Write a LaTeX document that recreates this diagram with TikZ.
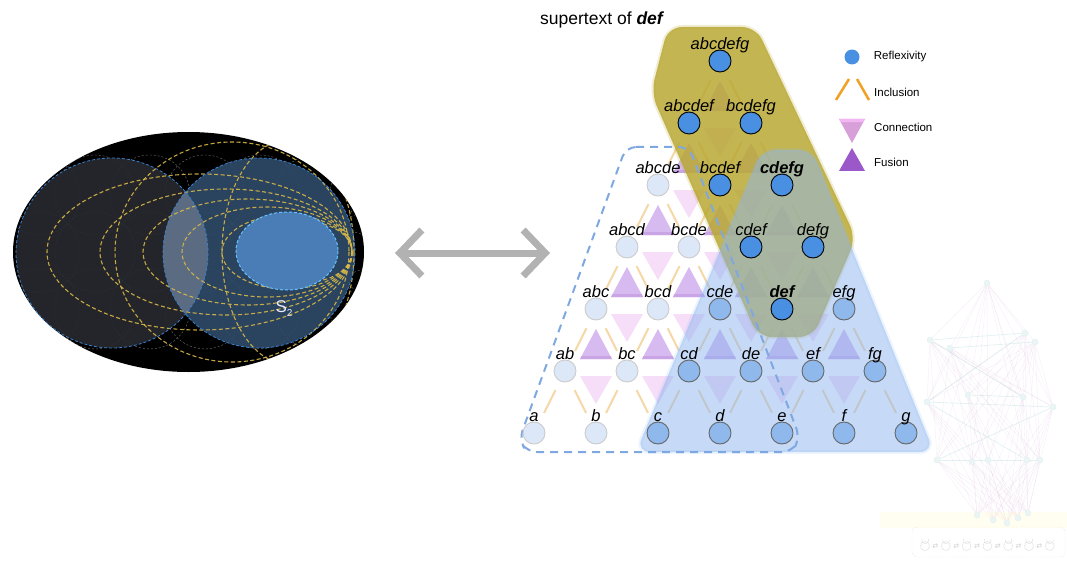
\documentclass[tikz,border=0pt]{standalone}
\usepackage{fontspec}
\setmainfont{Liberation Sans}
\newfontfamily\symbfont{DejaVu Sans}
\usetikzlibrary{arrows,arrows.meta,positioning}

\definecolor{palefill}{HTML}{DCE7F7}
\definecolor{midfill}{HTML}{8FB8EC}
\definecolor{brightfill}{HTML}{4A90E2}
\definecolor{inclcol}{HTML}{F5D8A6}
\definecolor{fusecol}{HTML}{D7BAEF}
\definecolor{fusebase}{HTML}{C9A5E6}
\definecolor{conncol}{HTML}{F6DDF8}
\definecolor{supercol}{HTML}{B9A833}
\definecolor{subcol}{HTML}{8DB6F0}
\definecolor{dashcol}{HTML}{7FA8E0}
\definecolor{leftdisk}{HTML}{26292E}
\definecolor{rightdisk}{HTML}{2E4968}
\definecolor{lenscol}{HTML}{5A6B82}
\definecolor{innercol}{HTML}{4A7DB5}
\definecolor{diskline}{HTML}{3A80CC}
\definecolor{goldline}{HTML}{D8B848}
\definecolor{legincl}{HTML}{F0A022}
\definecolor{legconn}{HTML}{D8A0D8}
\definecolor{legconntop}{HTML}{F2B6F2}
\definecolor{legfuse}{HTML}{9B58C9}

\pgfdeclarelayer{lines}
\pgfdeclarelayer{zones}
\pgfsetlayers{lines,zones,main}

\tikzset{
    %Define style for lattice nodes
    paleknot/.style={
           circle,
           draw=black!20, line width=0.9pt,
           fill=palefill,
           minimum size=22pt,
           inner sep=0pt},
    midknot/.style={paleknot, draw=black!60, fill=midfill},
    brightknot/.style={paleknot, draw=black, fill=brightfill},
    %Define style for labels
    lbl/.style={
           font=\fontsize{16.5}{17}\selectfont\itshape,
           inner sep=0pt,
           text depth=0pt},
    legtext/.style={font=\fontsize{11.5}{12}\selectfont, inner sep=0pt, anchor=west},
    % Define line styles
    incl/.style={draw=inclcol, line width=2pt, shorten <=11pt, shorten >=10pt},
    fuse/.style={fill=fusecol},
    conn/.style={fill=conncol},
    superzone/.style={fill=supercol, fill opacity=0.85, draw=supercol, draw opacity=0.2, line width=4pt, rounded corners=14pt},
    subzone/.style={fill=subcol, fill opacity=0.5, draw=subcol, draw opacity=0.15, line width=4pt, rounded corners=14pt},
    goldcurve/.style={draw=goldline, line width=1.1pt, dash pattern=on 4pt off 2.5pt, draw opacity=0.9},
    twoway/.style={{Straight Barb[length=22pt,width=46pt]}-{Straight Barb[length=22pt,width=46pt]}, line width=7pt, draw=black!30},
    ghostknot/.style={circle, fill=teal!8, draw=teal!12, minimum size=6pt, inner sep=0pt},
    ghostedge/.style={draw=violet!45, draw opacity=0.15, line width=0.4pt}
}

\begin{document}
\begin{tikzpicture}[x=1pt,y=-1pt]
\useasboundingbox (0,0) rectangle (1067,564);

 %left picture
\fill[black] (188.5,252) ellipse [x radius=175.5, y radius=120];
\begin{scope}
\clip (188.5,252) ellipse [x radius=175.5, y radius=120];
\foreach \cx in {40,95,...,370}
  \foreach \cy in {195,252,309}
    \draw[black!55, line width=0.4pt, dash pattern=on 2pt off 2pt] (\cx,\cy) circle [radius=40];
\fill[rightdisk, fill opacity=0.92] (259,253) ellipse [x radius=96, y radius=95];
\fill[leftdisk, fill opacity=0.92] (112,253) ellipse [x radius=96, y radius=95];
\begin{scope}
\clip (112,253) ellipse [x radius=96, y radius=95];
\fill[lenscol] (259,253) ellipse [x radius=96, y radius=95];
\end{scope}
\foreach \lx/\ry in {47/78, 100/63, 143/53, 182/45, 222/37, 262/30}
  \draw[goldcurve] ({(\lx+352)/2},252) ellipse [x radius={(352-\lx)/2}, y radius=\ry];
\draw[goldcurve] (232,252) ellipse [x radius=117, y radius=110];
\draw[goldcurve] (288,252) ellipse [x radius=66, y radius=112];
\end{scope}
\draw[diskline, line width=0.8pt, dash pattern=on 3pt off 2pt] (112,253) ellipse [x radius=96, y radius=95];
\draw[diskline, line width=0.8pt, dash pattern=on 3pt off 2pt] (259,253) ellipse [x radius=96, y radius=95];
\fill[innercol] (287,251) ellipse [x radius=51, y radius=39];
\draw[blue!40!cyan!60, line width=1pt, dash pattern=on 3pt off 2pt] (287,251) ellipse [x radius=51, y radius=39];
\node[text=blue!8, font=\fontsize{17}{17}\selectfont, inner sep=0pt] (stwo) at (284,309)
  {S\raisebox{-4pt}{\fontsize{10}{10}\selectfont 2}};

 %double arrow
\coordinate (arrL) at (395,253);
\coordinate (arrR) at (550,253);
\draw[twoway] (arrL) -- (arrR);

 %caption
\node[font=\fontsize{17.5}{18}\selectfont, inner sep=0pt, anchor=west] (cap) at (540,20)
  {supertext of \textbf{\textit{def}}};

 %lattice nodes
\foreach \nm/\r/\i/\st/\txt in {
  a/0/0/paleknot/a, b/0/1/paleknot/b, c/0/2/midknot/c, d/0/3/midknot/d,
  e/0/4/midknot/e, f/0/5/midknot/f, g/0/6/midknot/g,
  ab/1/0/paleknot/ab, bc/1/1/paleknot/bc, cd/1/2/midknot/cd, de/1/3/midknot/de,
  ef/1/4/midknot/ef, fg/1/5/midknot/fg,
  abc/2/0/paleknot/abc, bcd/2/1/paleknot/bcd, cde/2/2/midknot/cde,
  def/2/3/brightknot/\textbf{def}, efg/2/4/midknot/efg,
  abcd/3/0/paleknot/abcd, bcde/3/1/paleknot/bcde, cdef/3/2/brightknot/cdef, defg/3/3/brightknot/defg,
  abcde/4/0/paleknot/abcde, bcdef/4/1/brightknot/bcdef, cdefg/4/2/brightknot/\textbf{cdefg},
  abcdef/5/0/brightknot/abcdef, bcdefg/5/1/brightknot/bcdefg,
  abcdefg/6/0/brightknot/abcdefg}
  \node[\st, alias=n\r-\i, label={[lbl]above:\txt}] (\nm) at ({534+62*\i+31*\r},{433-62*\r}) {};

\begin{pgfonlayer}{lines}
 %inclusion
\foreach \r in {0,...,5}{
  \pgfmathtruncatemacro\up{\r+1}
  \pgfmathtruncatemacro\m{5-\r}
  \foreach \j in {0,...,\m}{
    \pgfmathtruncatemacro\jj{\j+1}
    \draw[incl] (n\r-\j) -- (n\up-\j);
    \draw[incl] (n\r-\jj) -- (n\up-\j);
  }
}
 %fusion
\foreach \r in {1,...,5}{
  \pgfmathtruncatemacro\m{5-\r}
  \foreach \i in {0,...,\m}{
    \pgfmathsetmacro\x{534+62*\i+31*(\r+1)}
    \pgfmathsetmacro\y{433-62*(\r+1)}
    \fill[fuse] ({\x-16},{\y+50}) -- (\x,{\y+20}) -- ({\x+16},{\y+50}) -- cycle;
    \fill[fusebase] ({\x-16},{\y+50}) -- ({\x+16},{\y+50}) -- ({\x+14.5},{\y+47}) -- ({\x-14.5},{\y+47}) -- cycle;
  }
}
 %connection
\foreach \r in {0,...,4}{
  \pgfmathtruncatemacro\m{5-\r}
  \foreach \i in {1,...,\m}{
    \pgfmathsetmacro\x{534+62*\i+31*\r}
    \pgfmathsetmacro\y{433-62*(\r+1)}
    \fill[conn] ({\x-16},{\y+5}) -- ({\x+16},{\y+5}) -- (\x,{\y+33}) -- cycle;
  }
}
\end{pgfonlayer}

\begin{pgfonlayer}{zones}
\filldraw[superzone] (668,27) -- (756,27) -- (856,238) -- (813,337) -- (758,337) -- (651,93) -- cycle;
\filldraw[subzone] (762,150) -- (812,150) -- (934,452) -- (636,452) -- cycle;
\draw[dashcol, line width=2pt, dash pattern=on 8pt off 6pt, rounded corners=10pt]
  (626,147) -- (689,147) -- (800,438) -- (792,452) -- (527,452) -- (519,440) -- cycle;
\end{pgfonlayer}

 %legend
\node[circle, fill=brightfill, minimum size=15pt, inner sep=0pt] (reflex) at (852,57) {};
\node[legtext, right=14pt of reflex] (reflexlbl) {Reflexivity};
\coordinate (inclA) at (836,100);
\coordinate (inclB) at (849,79);
\coordinate (inclC) at (857,79);
\coordinate (inclD) at (869,100);
\draw[legincl, line width=2.5pt] (inclA) -- (inclB) (inclC) -- (inclD);
\node[legtext] (incllbl) at (874,92) {Inclusion};
\fill[legconn] (839,119) -- (865,119) -- (852,143) -- cycle;
\fill[legconntop] (839,119) -- (865,119) -- (863.3,122.2) -- (840.7,122.2) -- cycle;
\node[legtext] (connlbl) at (874,127) {Connection};
\fill[legfuse] (852,148) -- (865,171) -- (839,171) -- cycle;
\node[legtext] (fuselbl) at (874,162) {Fusion};

 %faded graph
\fill[yellow!50, opacity=0.12] (880,512) rectangle (1067,528);
\foreach \nm/\x/\y in {gt/987/283, ga1/930/340, ga2/950/348, ga3/1025/333, ga4/1035/342,
  gb1/927/402, gb2/968/395, gb3/1023/397, gb4/1053/407,
  gc1/937/460, gc2/972/462, gc3/988/460, gc4/1027/460, gc5/1040/460,
  gd1/977/515, gd2/993/520, gd3/1007/523, gd4/1018/518, gd5/1028/513}
  \node[ghostknot] (\nm) at (\x,\y) {};
\begin{pgfonlayer}{lines}
\foreach \s in {ga1,ga2,ga3,ga4,gb1,gb2,gb3,gb4,gc1,gc2,gc3,gc4,gc5}
  \draw[ghostedge] (gt) -- (\s);
\foreach \s in {ga1,ga2,ga3,ga4}
  \foreach \t in {gb1,gb2,gb3,gb4,gc1,gc2,gc3,gc4,gc5}
    \draw[ghostedge] (\s) -- (\t);
\foreach \s in {gb1,gb2,gb3,gb4,gc1,gc2,gc3,gc4,gc5}
  \foreach \t in {gd1,gd2,gd3,gd4,gd5}
    \draw[ghostedge] (\s) -- (\t);
\foreach \s/\t in {ga1/ga3, ga2/ga4, ga1/gb3, ga3/gb1, gb1/gb4, gb2/gb3, gc1/gc5, gb1/gc4, gb4/gc1}
  \draw[teal!25, draw opacity=0.45, line width=0.7pt] (\s) -- (\t);
\end{pgfonlayer}
\node[draw=black!10, dash pattern=on 2pt off 1.5pt, rounded corners=5pt, minimum width=153pt, minimum height=30pt, inner sep=0pt] (ghostbox) at (988.5,542) {};
\foreach \k in {0,...,6}{
  \node[circle, draw=black!14, minimum size=9pt, inner sep=0pt] (gl\k) at ({925+20.8*\k},546) {};
  \draw[black!14, line width=0.4pt] ({925+20.8*\k-3},539) arc [start angle=200, end angle=-20, radius=3.4];
}
\foreach \k in {0,...,5}
  \node[text=black!18, font=\symbfont\fontsize{7}{7}\selectfont, inner sep=0pt] (gs\k) at ({935.4+20.8*\k},546) {⇄};
\end{tikzpicture}
\end{document}
